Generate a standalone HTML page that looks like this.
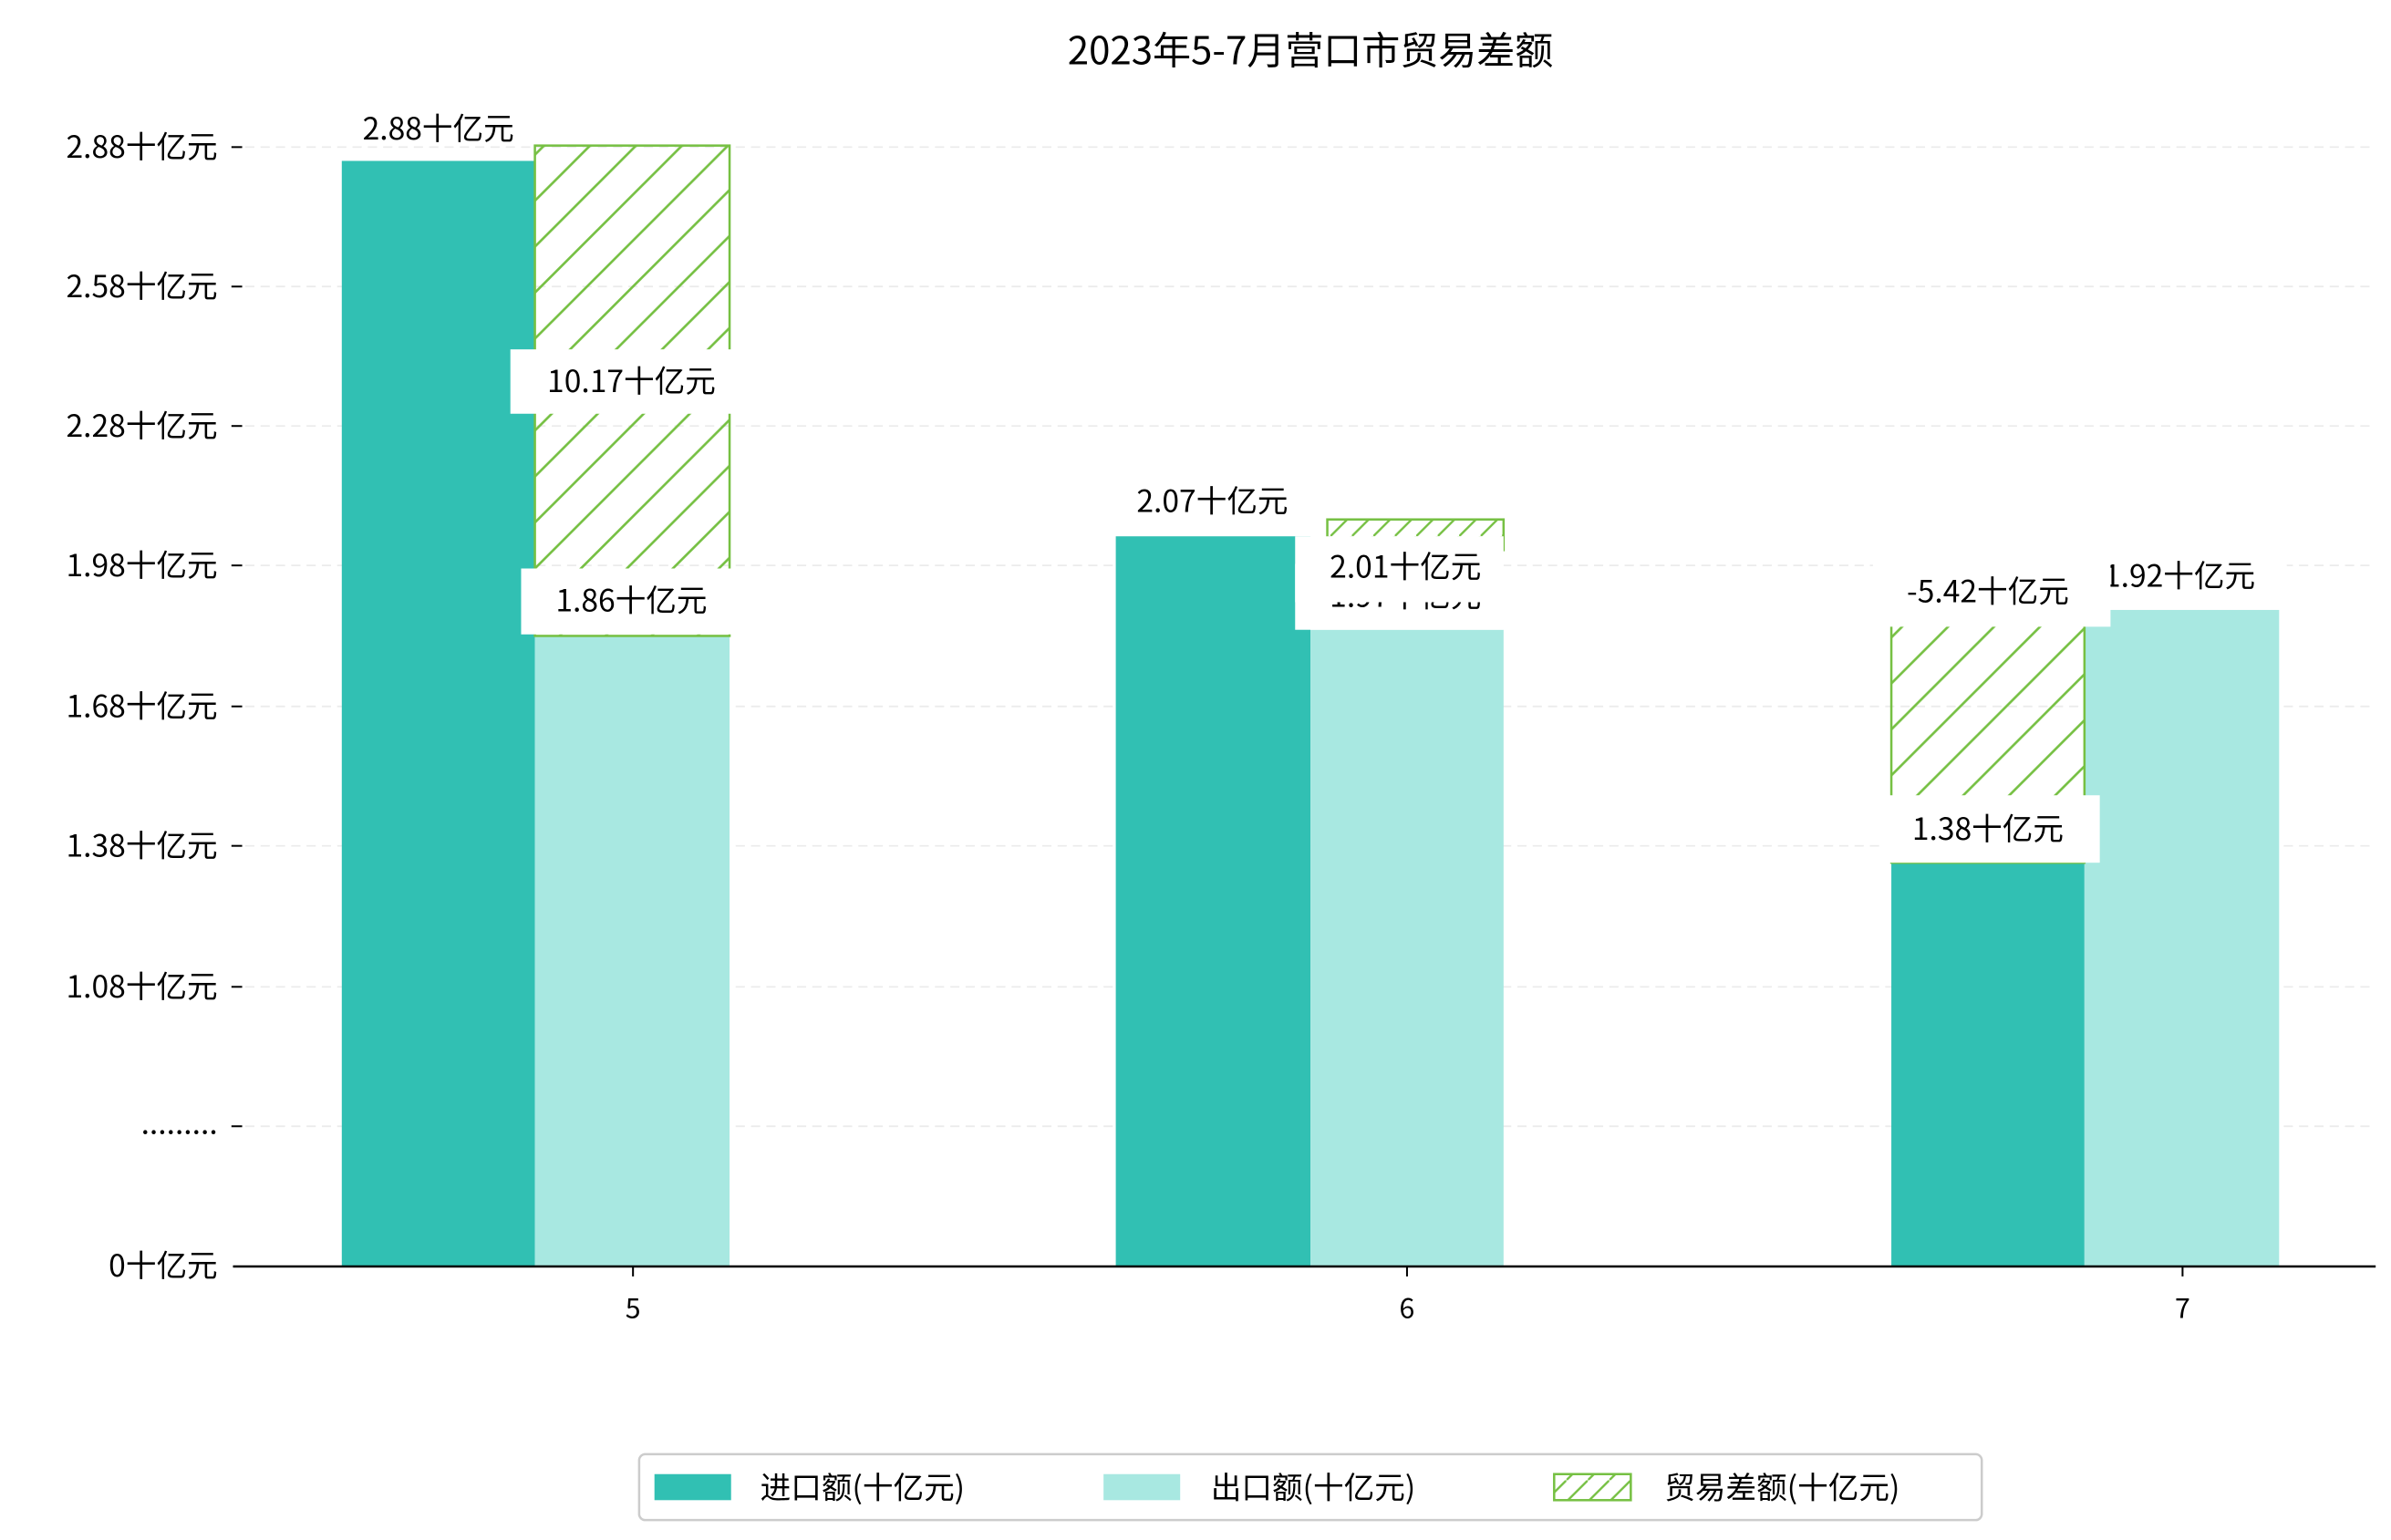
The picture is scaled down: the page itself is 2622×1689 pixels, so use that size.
<!DOCTYPE html>
<html><head><meta charset="utf-8"><style>
html,body{margin:0;padding:0;background:#fff;}
svg{display:block;}
text{font-family:"WenQuanYi Zen Hei","Noto Sans CJK SC",sans-serif;fill:#000;}
</style></head><body>
<svg width="2622" height="1689" viewBox="0 0 1560 1005" preserveAspectRatio="none" xmlns="http://www.w3.org/2000/svg">
<defs>
<pattern id="h" patternUnits="userSpaceOnUse" width="30" height="30">
<line x1="-5" y1="35" x2="35" y2="-5" stroke="#76c043" stroke-width="1.6"/>
<line x1="-35" y1="35" x2="5" y2="-5" stroke="#76c043" stroke-width="1.6"/>
<line x1="25" y1="35" x2="65" y2="-5" stroke="#76c043" stroke-width="1.6"/>
</pattern>
<pattern id="h2" patternUnits="userSpaceOnUse" width="14" height="14">
<line x1="-2" y1="16" x2="16" y2="-2" stroke="#76c043" stroke-width="1.4"/>
</pattern>
</defs>
<text x="855" y="42" font-size="25" text-anchor="middle">2023年5-7月营口市贸易差额</text>
<g stroke="#ebebeb" stroke-width="1" stroke-dasharray="6,4">
<line x1="160" y1="96" x2="1550" y2="96"/>
<line x1="160" y1="187" x2="1550" y2="187"/>
<line x1="160" y1="278" x2="1550" y2="278"/>
<line x1="160" y1="369" x2="1550" y2="369"/>
<line x1="160" y1="461" x2="1550" y2="461"/>
<line x1="160" y1="552" x2="1550" y2="552"/>
<line x1="160" y1="644" x2="1550" y2="644"/>
<line x1="160" y1="735" x2="1550" y2="735"/>
</g>
<g stroke="#000" stroke-width="1.2">
<line x1="151" y1="96" x2="158" y2="96"/><line x1="151" y1="187" x2="158" y2="187"/>
<line x1="151" y1="278" x2="158" y2="278"/><line x1="151" y1="369" x2="158" y2="369"/>
<line x1="151" y1="461" x2="158" y2="461"/><line x1="151" y1="552" x2="158" y2="552"/>
<line x1="151" y1="644" x2="158" y2="644"/><line x1="151" y1="735" x2="158" y2="735"/>
</g>
<g font-size="20" text-anchor="end">
<text x="142" y="103">2.88十亿元</text><text x="142" y="194">2.58十亿元</text>
<text x="142" y="285">2.28十亿元</text><text x="142" y="376">1.98十亿元</text>
<text x="142" y="468">1.68十亿元</text><text x="142" y="559">1.38十亿元</text>
<text x="142" y="651">1.08十亿元</text><text x="142" y="740">.........</text>
<text x="142" y="833">0十亿元</text>
</g>
<rect x="223" y="105" width="126" height="721" fill="#31c0b3"/>
<rect x="349" y="415" width="127" height="411" fill="#a8e8e1"/>
<rect x="349" y="95" width="127" height="320" fill="url(#h)" stroke="#76c043" stroke-width="1.5"/>
<rect x="728" y="350" width="127" height="476" fill="#31c0b3"/>
<rect x="855" y="411" width="126" height="415" fill="#a8e8e1"/>
<rect x="866" y="339" width="115" height="20" fill="url(#h2)" stroke="#76c043" stroke-width="1.5"/>
<rect x="1234" y="563" width="126" height="263" fill="#31c0b3"/>
<rect x="1360" y="398" width="127" height="428" fill="#a8e8e1"/>
<rect x="1234" y="400" width="126" height="163" fill="url(#h)" stroke="#76c043" stroke-width="1.5"/>
<line x1="152" y1="826.5" x2="1550" y2="826.5" stroke="#000" stroke-width="1.5"/>
<g stroke="#000" stroke-width="1.2"><line x1="413" y1="826" x2="413" y2="833"/><line x1="918" y1="826" x2="918" y2="833"/><line x1="1424" y1="826" x2="1424" y2="833"/></g>
<g font-size="18" text-anchor="middle"><text x="413" y="860">5</text><text x="918" y="860">6</text><text x="1424" y="860">7</text></g>
<g font-size="20" text-anchor="middle">
<text x="286" y="91">2.88十亿元</text>
<rect x="333" y="228" width="153" height="42" fill="#fff"/><text x="412" y="256">10.17十亿元</text>
<rect x="340" y="371" width="146" height="43" fill="#fff"/><text x="412" y="399">1.86十亿元</text>
<text x="791" y="334">2.07十亿元</text>
<rect x="845" y="368" width="136" height="43" fill="#fff"/><text x="917" y="396">1.97十亿元</text>
<rect x="845" y="350" width="136" height="43" fill="#fff"/><text x="917" y="377">2.01十亿元</text>
<rect x="1370" y="355" width="122" height="43" fill="#fff"/><text x="1422" y="383">1.92十亿元</text>
<rect x="1222" y="365" width="155" height="44" fill="#fff"/><text x="1297" y="393">-5.42十亿元</text>
<rect x="1228" y="519" width="142" height="44" fill="#fff"/><text x="1297" y="548">1.38十亿元</text>
</g>
<rect x="417" y="949" width="876" height="43" rx="4" fill="#fff" stroke="#cccccc" stroke-width="1.5"/>
<rect x="427" y="962" width="50" height="17" fill="#31c0b3"/>
<rect x="720" y="962" width="50" height="17" fill="#a8e8e1"/>
<rect x="1014" y="962" width="50" height="17" fill="url(#h2)" stroke="#76c043" stroke-width="1.5"/>
<g font-size="20"><text x="496" y="978">进口额(十亿元)</text><text x="790" y="978">出口额(十亿元)</text><text x="1086" y="978">贸易差额(十亿元)</text></g>
</svg>
</body></html>
